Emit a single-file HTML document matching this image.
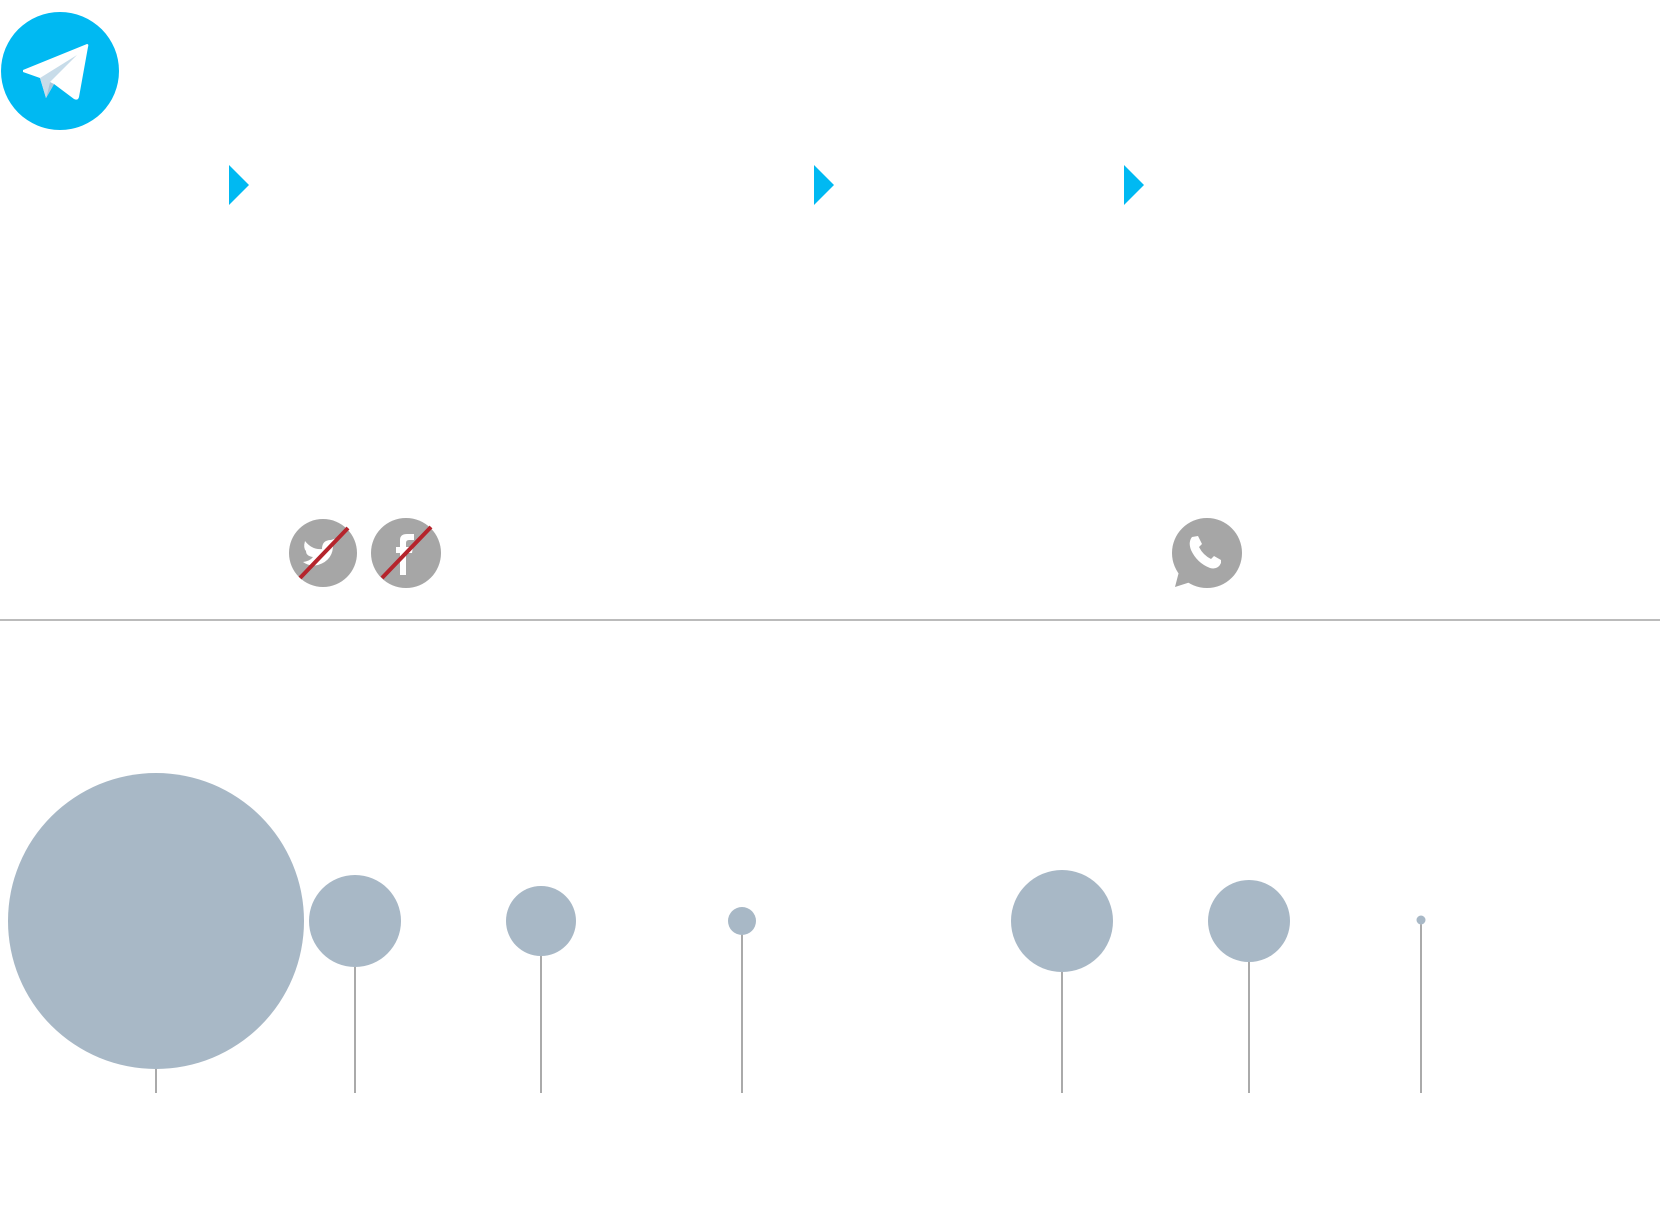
<!DOCTYPE html>
<html><head><meta charset="utf-8"><style>html,body{margin:0;padding:0;background:#fff;}svg{display:block}</style></head>
<body>
<svg width="1660" height="1218" viewBox="0 0 1660 1218" xmlns="http://www.w3.org/2000/svg">
<rect width="1660" height="1218" fill="#fff"/>
<circle cx="60" cy="71" r="59" fill="#00b9f2"/>
<path d="M23,70 L87,44 Q89,44 88,47 L79,97 Q78,101 74,99 L54,84 L46,98 L40,78 L23,72 Z" fill="#fff"/>
<path d="M40,78 L77,55 L50,82 L46,98 Z" fill="#c8dce9"/>
<path d="M50,82 L54,84 L46,98 Z" fill="#a9c6db"/>
<g fill="#00b9f2">
<polygon points="229,165 249,185 229,205"/>
<polygon points="814,165 834,185 814,205"/>
<polygon points="1124,165 1144,185 1124,205"/>
</g>
<circle cx="323" cy="553" r="34" fill="#a6a6a6"/>
<path d="M305,541 Q312,550 322,549 Q322,540 331,540 L337,538 L333,543 Q334,560 318,565 Q310,567 303,562 Q310,561 313,557 Q306,556 306,551 Q303,548 305,541Z" fill="#fff"/>
<line x1="300" y1="578" x2="348" y2="528" stroke="#b5242c" stroke-width="4"/>
<circle cx="406" cy="553" r="35" fill="#a6a6a6"/>
<path d="M400,575 L400,553 L396,553 L396,547 L400,547 L400,540 Q400,534 407,534 L414,534 L414,540 L409,540 Q406,540 406,543 L406,547 L413,547 L412,553 L406,553 L406,575 Z" fill="#fff"/>
<line x1="382" y1="578" x2="431" y2="527" stroke="#b5242c" stroke-width="4"/>
<circle cx="1207" cy="553" r="35" fill="#a6a6a6"/>
<polygon points="1182,560 1175,587 1200,579" fill="#a6a6a6"/>
<circle cx="1207" cy="553" r="23" fill="#a6a6a6"/>
<path d="M1192,537 Q1188,542 1191,550 Q1197,563 1210,568 Q1218,570 1221,563 L1221,560 L1214,556 L1211,559 Q1203,555 1199,547 L1202,544 L1198,536 Z" fill="#fff"/>
<line x1="0" y1="620" x2="1660" y2="620" stroke="#777" stroke-width="1"/>
<g stroke="#555" stroke-width="1">
<line x1="156" y1="1060" x2="156" y2="1093"/>
<line x1="355" y1="960" x2="355" y2="1093"/>
<line x1="541" y1="950" x2="541" y2="1093"/>
<line x1="742" y1="930" x2="742" y2="1093"/>
<line x1="1062" y1="965" x2="1062" y2="1093"/>
<line x1="1249" y1="955" x2="1249" y2="1093"/>
<line x1="1421" y1="922" x2="1421" y2="1093"/>
</g>
<g fill="#a8b8c6">
<circle cx="156" cy="921" r="148"/>
<circle cx="355" cy="921" r="46"/>
<circle cx="541" cy="921" r="35"/>
<circle cx="742" cy="921" r="14"/>
<circle cx="1062" cy="921" r="51"/>
<circle cx="1249" cy="921" r="41"/>
<circle cx="1421" cy="920" r="4.5"/>
</g>
</svg>
</body></html>
